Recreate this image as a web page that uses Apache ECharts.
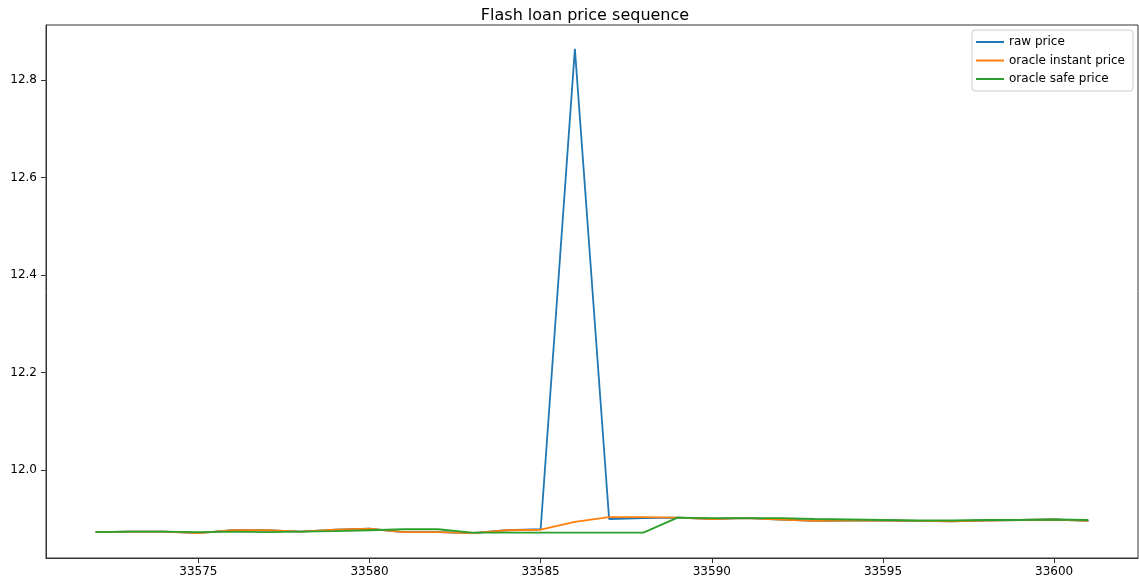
<!DOCTYPE html>
<html>
<head>
<meta charset="utf-8">
<script src="https://cdn.jsdelivr.net/npm/echarts@6/dist/echarts.min.js"></script>
<style>
html,body{margin:0;padding:0;background:#fff;}
#chart{width:1139px;height:580px;}
</style>
</head>
<body>
<div id="chart"></div>
<script>
const blocks = [33572,33573,33574,33575,33576,33577,33578,33579,33580,33581,33582,33583,33584,33585,33586,33587,33588,33589,33590,33591,33592,33593,33594,33595,33596,33597,33598,33599,33600,33601];
const rawPrice = [11.872,11.873,11.873,11.870,11.876,11.876,11.873,11.877,11.879,11.872,11.872,11.870,11.876,11.878,12.864,11.899,11.901,11.902,11.899,11.901,11.898,11.895,11.896,11.896,11.895,11.894,11.896,11.897,11.898,11.895];
const instantPrice = [11.872,11.873,11.873,11.870,11.876,11.876,11.873,11.877,11.879,11.872,11.872,11.870,11.876,11.877,11.893,11.903,11.903,11.902,11.899,11.901,11.898,11.895,11.896,11.896,11.895,11.894,11.896,11.897,11.898,11.895];
const safePrice = [11.872,11.873,11.873,11.872,11.873,11.872,11.873,11.874,11.876,11.878,11.878,11.871,11.871,11.871,11.871,11.871,11.871,11.902,11.901,11.901,11.901,11.899,11.898,11.897,11.896,11.896,11.897,11.897,11.898,11.897];
const xTicks = [33575,33580,33585,33590,33595,33600];
const yTicks = [12.0,12.2,12.4,12.6,12.8];
const seriesNames = ['raw price','oracle instant price','oracle safe price'];
const colors = ['#1f77b4','#ff7f0e','#2ca02c'];

const pairs = arr => blocks.map((b,i)=>[b,arr[i]]);
const font = 'DejaVu Sans';
const chart = echarts.init(document.getElementById('chart'), null, {renderer:'canvas'});
chart.setOption({
  animation:false,
  backgroundColor:'#fff',
  color:colors,
  title:{text:'Flash loan price sequence',left:580,textAlign:'center',top:3,
    textStyle:{fontFamily:font,fontSize:16,fontWeight:'normal',color:'#000'}},
  grid:{left:46,right:1,top:25,bottom:22,show:true,borderColor:'#333',borderWidth:1,backgroundColor:'transparent'},
  legend:{orient:'vertical',right:6,top:30,data:seriesNames,icon:'rect',itemWidth:28,itemHeight:2,itemGap:4.5,
    padding:[5,8,5,4],borderColor:'#ccc',borderWidth:1,borderRadius:3,backgroundColor:'rgba(255,255,255,0.8)',
    textStyle:{fontFamily:font,fontSize:12,color:'#000',lineHeight:14}},
  xAxis:{type:'value',min:33570.55,max:33602.45,
    axisLine:{show:true,lineStyle:{color:'#333'}},
    axisTick:{show:true,inside:false,length:5,lineStyle:{color:'#333'},customValues:xTicks},
    axisLabel:{show:true,fontFamily:font,fontSize:12,color:'#000',margin:8,customValues:xTicks,formatter:v=>String(v)},
    splitLine:{show:false}},
  yAxis:{type:'value',min:11.819,max:12.913,
    axisLine:{show:true,lineStyle:{color:'#333'}},
    axisTick:{show:true,inside:false,length:5,lineStyle:{color:'#333'},customValues:yTicks},
    axisLabel:{show:true,fontFamily:font,fontSize:12,color:'#000',margin:9,customValues:yTicks,formatter:v=>Number(v).toFixed(1)},
    splitLine:{show:false}},
  series:[
    {name:seriesNames[0],type:'line',data:pairs(rawPrice),showSymbol:false,lineStyle:{width:1.8,color:colors[0]},itemStyle:{color:colors[0]}},
    {name:seriesNames[1],type:'line',data:pairs(instantPrice),showSymbol:false,lineStyle:{width:1.8,color:colors[1]},itemStyle:{color:colors[1]}},
    {name:seriesNames[2],type:'line',data:pairs(safePrice),showSymbol:false,lineStyle:{width:1.8,color:colors[2]},itemStyle:{color:colors[2]}}
  ]
});
</script>
</body>
</html>
